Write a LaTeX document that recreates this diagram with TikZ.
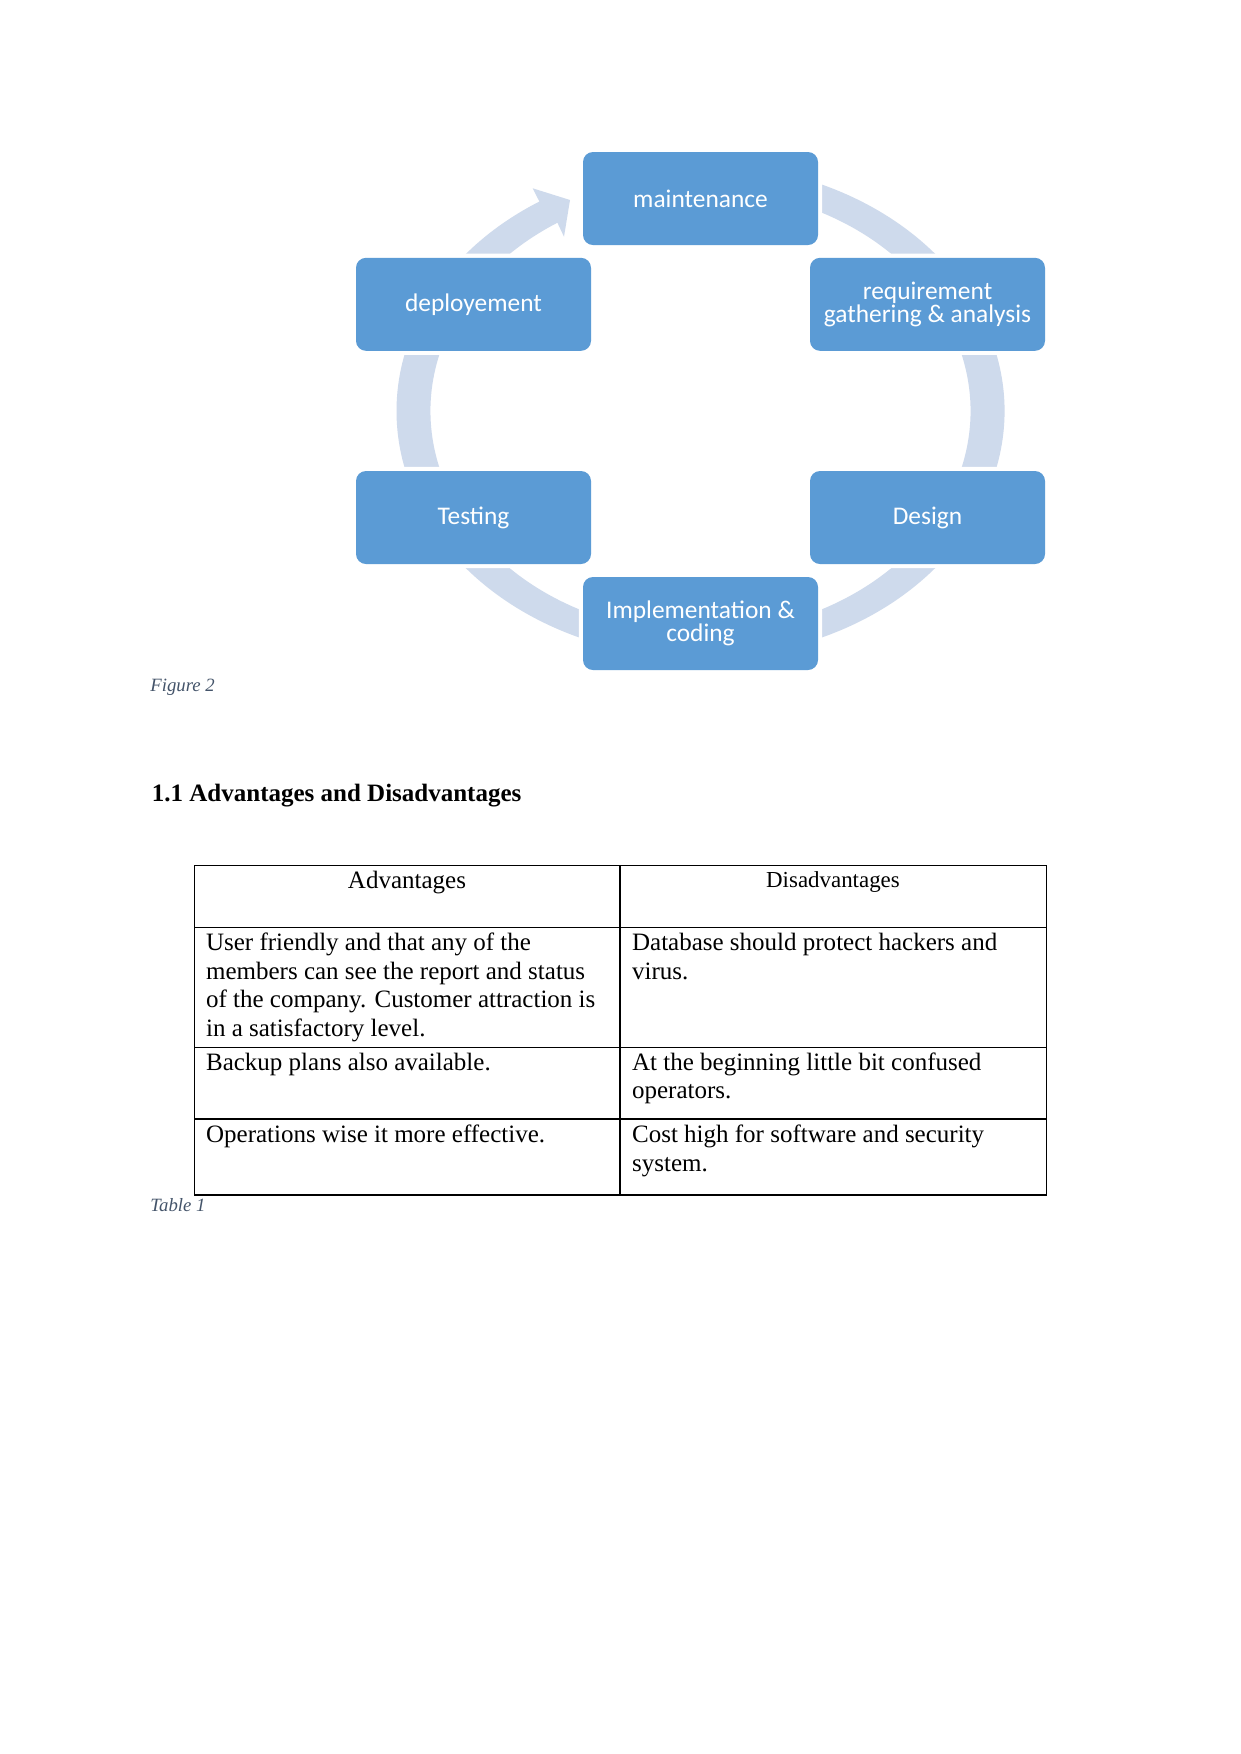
\documentclass[tikz,border=0pt]{standalone}
\usepackage{fontspec}
\setmainfont{Liberation Serif}
\newfontfamily\boxfont{Carlito}
\usetikzlibrary{calc}
\definecolor{boxblue}{HTML}{5B9BD5}
\definecolor{ringblue}{RGB}{206,218,236}
\definecolor{captgray}{HTML}{44546A}
\begin{document}
\begin{tikzpicture}[x=0.48pt,y=-0.48pt,
  stagebox/.style={rounded corners=4.8pt, fill=boxblue, text=white,
    minimum width=112.8pt, minimum height=44.64pt, inner sep=0pt, align=center,
    font=\boxfont\fontsize{12.2}{10.8}\selectfont,
    preaction={draw=white, line width=4pt}},
  capt/.style={font=\fontsize{9}{11}\selectfont\itshape, text=captgray, inner sep=0pt},
  head/.style={font=\fontsize{12}{14}\selectfont\bfseries, inner sep=0pt},
  cell/.style={font=\fontsize{12}{13.65}\selectfont, inner sep=0pt},
  tline/.style={line width=0.5pt, black}]
\path[use as bounding box, fill=white] (0,0) rectangle (1241,1754);

% ring
\coordinate (rc) at (700.5,411);
\fill[ringblue] ($(rc)+(250:304 and 247)$) arc[start angle=250, end angle=560, x radius=304, y radius=247]
  -- ($(rc)+(560:270 and 222)$) arc[start angle=560, end angle=250, x radius=270, y radius=222] -- cycle;
\fill[ringblue] ($(rc)+(200:304 and 247)$) arc[start angle=200, end angle=238, x radius=304, y radius=247]
  -- (532.7,188.3) -- (570,200) -- (564,236.7)
  -- ($(rc)+(238:270 and 222)$) arc[start angle=238, end angle=200, x radius=270, y radius=222] -- cycle;

% stages
\node[stagebox] (maint) at (700.5,198.5) {maintenance};
\node[stagebox] (req) at (927.5,304.3) {requirement\\gathering \& analysis};
\node[stagebox] (design) at (927.5,517.5) {Design};
\node[stagebox] (impl) at (700.5,623.5) {Implementation \&\\coding};
\node[stagebox] (test) at (473.5,517.5) {Testing};
\node[stagebox] (deploy) at (473.5,304.3) {deployement};

% captions and heading
\node[capt, anchor=base west] (fig) at (150,691.5) {Figure 2};
\node[head, anchor=base west] (hd) at (151.5,801.7) {1.1 Advantages and Disadvantages};

% table
\draw[tline] (194.3,865.7) rectangle (1046.3,1195);
\draw[tline] (620,865.7) -- (620,1195);
\draw[tline] (194.3,927.3) -- (1046.3,927.3);
\draw[tline] (194.3,1047.3) -- (1046.3,1047.3);
\draw[tline] (194.3,1119) -- (1046.3,1119);

\node[cell, anchor=base] (th1) at (407,888.3) {Advantages};
\node[cell, anchor=base, font=\fontsize{11}{13}\selectfont] (th2) at (833,887) {Disadvantages};

\node[cell, anchor=base west] (a1) at (205.7,950.7) {\parbox[t]{215pt}{\raggedright User friendly and that any of the\\members can see the report and status\\of the company. Customer attraction is\\in a satisfactory level.}};
\node[cell, anchor=base west] (d1) at (631.7,950.7) {\parbox[t]{215pt}{\raggedright Database should protect hackers and\\virus.}};
\node[cell, anchor=base west] (a2) at (205.7,1070) {Backup plans also available.};
\node[cell, anchor=base west] (d2) at (631.7,1070) {\parbox[t]{215pt}{\raggedright At the beginning little bit confused\\operators.}};
\node[cell, anchor=base west] (a3) at (205.7,1142.7) {Operations wise it more effective.};
\node[cell, anchor=base west] (d3) at (631.7,1142.7) {\parbox[t]{215pt}{\raggedright Cost high for software and security\\system.}};

\node[capt, anchor=base west] (tab) at (150,1211) {Table 1};
\end{tikzpicture}
\end{document}
